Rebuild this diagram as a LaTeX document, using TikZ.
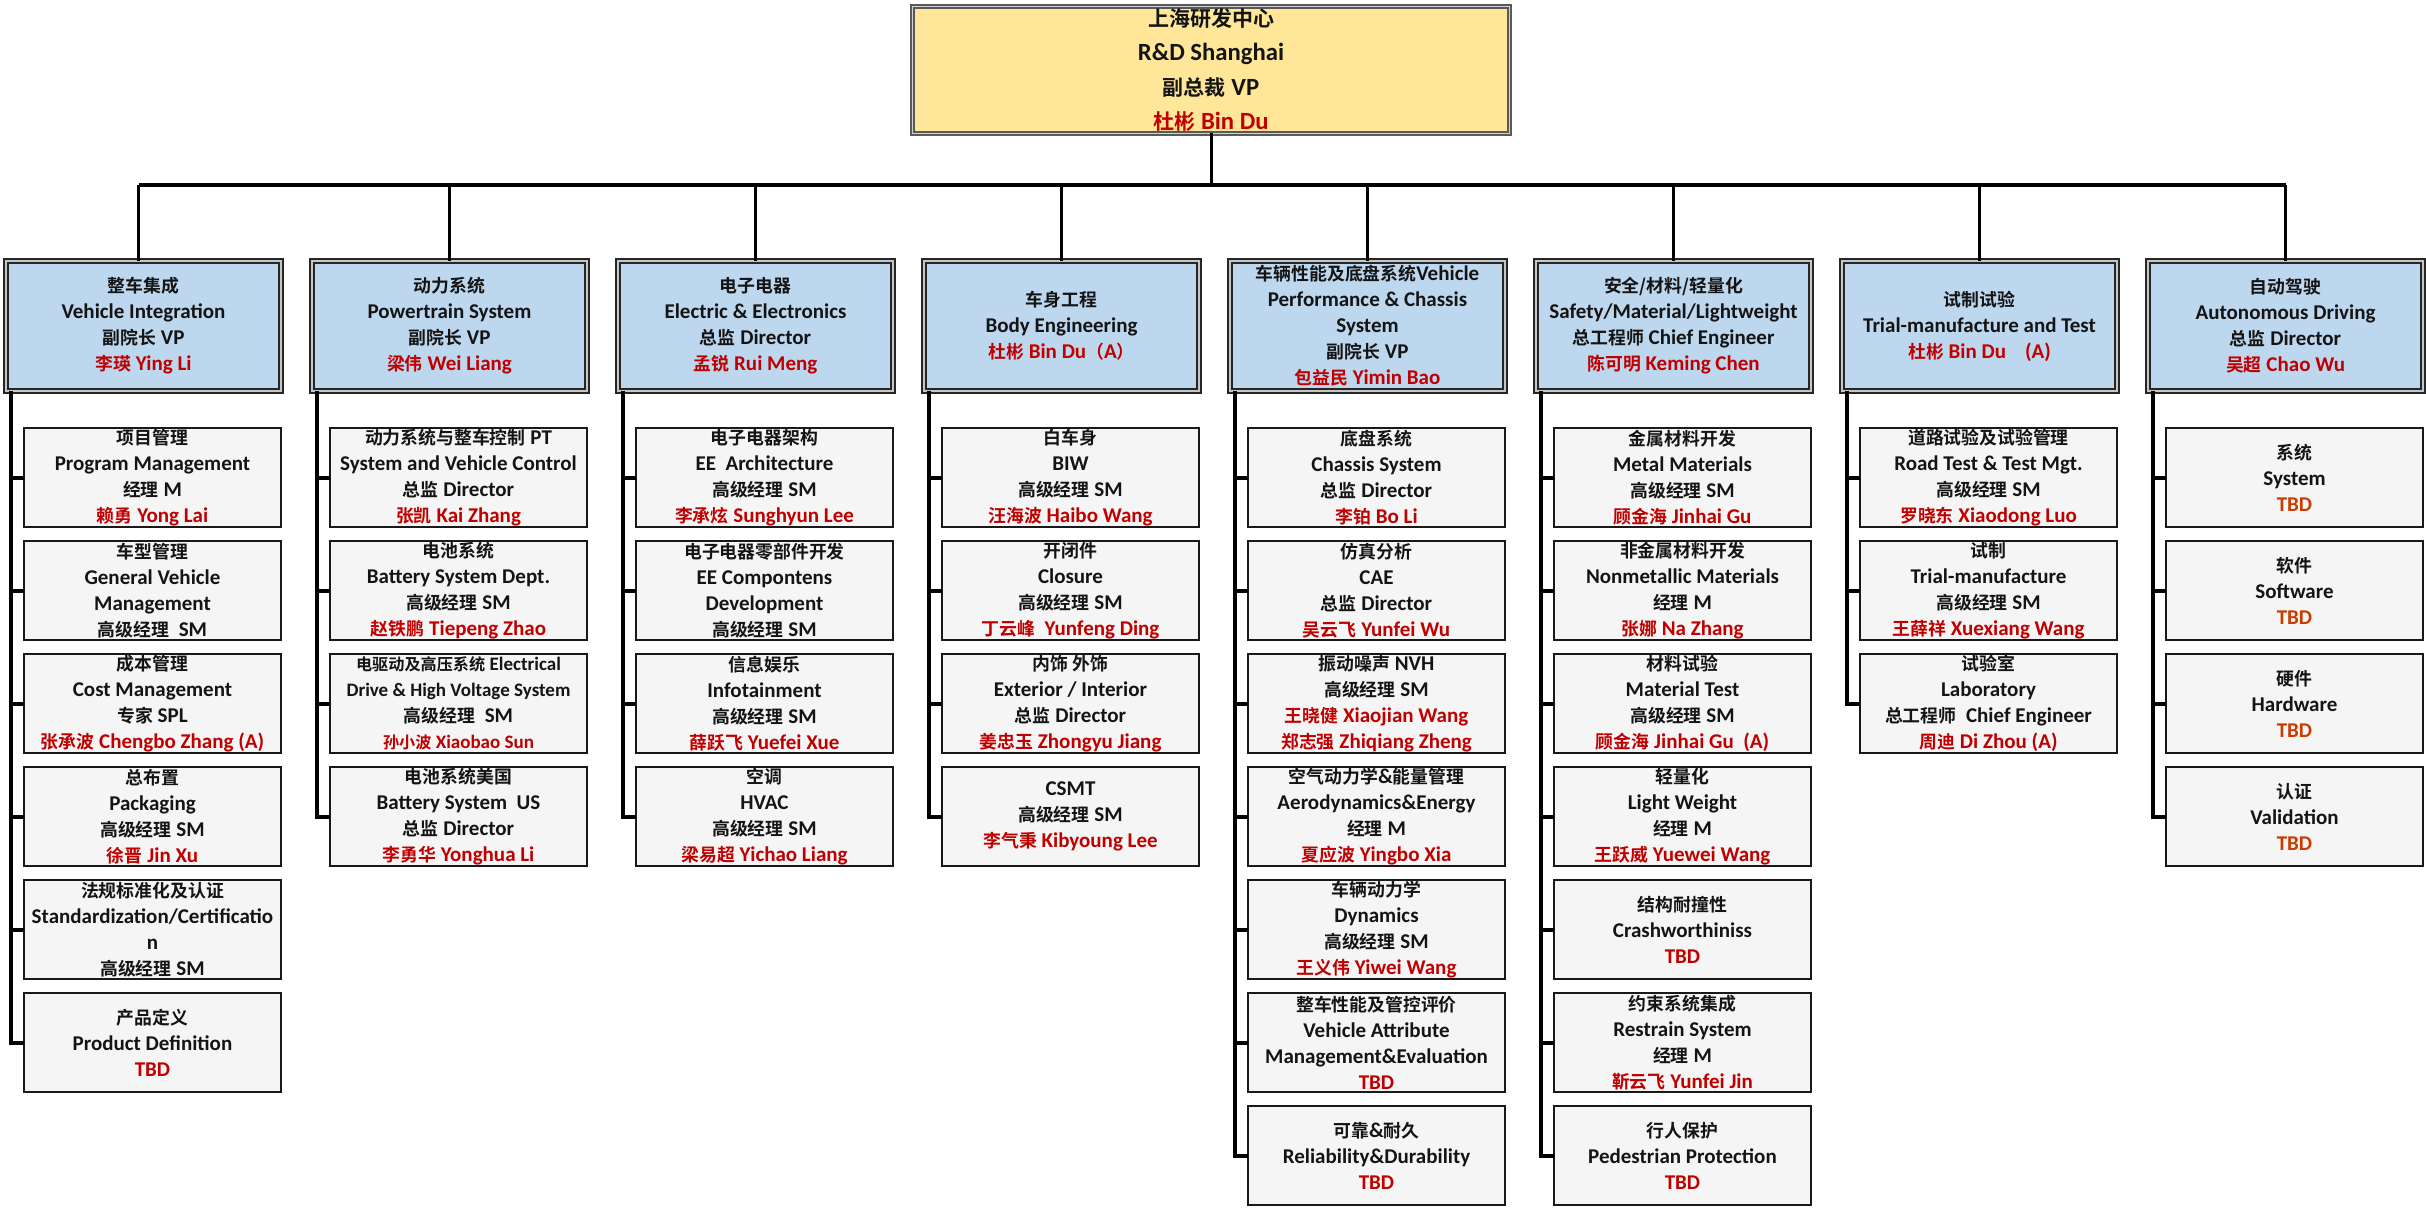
\documentclass[tikz,border=0pt]{standalone}
\usepackage{fontspec}
\setmainfont{Carlito}
\newfontfamily\cjk{Noto Sans CJK SC}[Scale=0.85, BoldFont={* Bold}]
\newcommand\zh[1]{{\cjk #1}}
\definecolor{hdrblue}{RGB}{189,215,238}
\definecolor{childgray}{RGB}{245,245,245}
\definecolor{topgold}{RGB}{255,230,153}
\definecolor{nmred}{RGB}{192,0,0}
\definecolor{tbdor}{RGB}{200,60,0}
\definecolor{txt}{RGB}{20,20,20}
\newcommand\nm[1]{\textcolor{nmred}{#1}}
\newcommand\tbdo{\textcolor{tbdor}{TBD}}
\newcommand\sm[1]{{\fontsize{9.5}{13}\selectfont #1}}
\begin{document}
\begin{tikzpicture}[x=0.5pt,y=-0.5pt,
  every node/.style={text=txt},
  base/.style={align=center, inner sep=0pt, outer sep=0pt, font=\fontsize{10.5}{13}\selectfont\bfseries},
  topbox/.style={base, draw=black!65, line width=0.9pt, double=gray!35, double distance=0.8pt, fill=topgold,
     minimum width=298.4pt, minimum height=63.4pt, font=\fontsize{12.35}{17.25}\selectfont\bfseries},
  hdr/.style={base, draw=black!85, line width=1pt, double=gray!45, double distance=0.9pt, fill=hdrblue,
     minimum width=137.6pt, minimum height=65.1pt},
  child/.style={base, draw=black!90, line width=1pt, fill=childgray, minimum width=128.5pt, minimum height=49.5pt},
  conn/.style={draw=black, line width=1.5pt},
  busline/.style={draw=black, line width=2.2pt},
  spine/.style={draw=black, line width=2pt}]
\useasboundingbox (0,0) rectangle (2426,1207);

% top
\node[topbox] (top) at (1211,70) {\zh{上海研发中心}\\R\&D Shanghai\\\zh{副总裁} VP\\\nm{\zh{杜彬} Bin Du}};
\coordinate (bus) at (1211,185);

% headers
\node[hdr] (h1) at (143.5,326) {\zh{整车集成}\\Vehicle Integration\\\zh{副院长} VP\\\nm{\zh{李瑛} Ying Li}};
\node[hdr] (h2) at (449.5,326) {\zh{动力系统}\\Powertrain System\\\zh{副院长} VP\\\nm{\zh{梁伟} Wei Liang}};
\node[hdr] (h3) at (755.5,326) {\zh{电子电器}\\Electric \& Electronics\\\zh{总监} Director\\\nm{\zh{孟锐} Rui Meng}};
\node[hdr] (h4) at (1061.5,326) {\zh{车身工程}\\Body Engineering\\\nm{\zh{杜彬} Bin Du\zh{（}A\zh{）}}};
\node[hdr] (h5) at (1367.5,326) {\zh{车辆性能及底盘系统}Vehicle\\Performance \& Chassis\\System\\\zh{副院长} VP\\\nm{\zh{包益民} Yimin Bao}};
\node[hdr] (h6) at (1673.5,326) {\zh{安全/材料/轻量化}\\Safety/Material/Lightweight\\\zh{总工程师} Chief Engineer\\\nm{\zh{陈可明} Keming Chen}};
\node[hdr] (h7) at (1979.5,326) {\zh{试制试验}\\Trial-manufacture and Test\\\nm{\zh{杜彬} Bin Du\ \ \ \ (A)}};
\node[hdr] (h8) at (2285.5,326) {\zh{自动驾驶}\\Autonomous Driving\\\zh{总监} Director\\\nm{\zh{吴超} Chao Wu}};

% column 1
\node[child] (c1-1) at (152.5,477.5) {\zh{项目管理}\\Program Management\\\zh{经理} M\\\nm{\zh{赖勇} Yong Lai}};
\node[child] (c1-2) at (152.5,590.5) {\zh{车型管理}\\General Vehicle\\Management\\\zh{高级经理}\ \ SM};
\node[child] (c1-3) at (152.5,703.5) {\zh{成本管理}\\Cost Management\\\zh{专家} SPL\\\nm{\zh{张承波} Chengbo Zhang (A)}};
\node[child] (c1-4) at (152.5,816.5) {\zh{总布置}\\Packaging\\\zh{高级经理} SM\\\nm{\zh{徐晋} Jin Xu}};
\node[child] (c1-5) at (152.5,929.5) {\zh{法规标准化及认证}\\Standardization/Certificatio\\n\\\zh{高级经理} SM};
\node[child] (c1-6) at (152.5,1042.5) {\zh{产品定义}\\Product Definition\\\nm{TBD}};

% column 2
\node[child] (c2-1) at (458.5,477.5) {\zh{动力系统与整车控制} PT\\System and Vehicle Control\\\zh{总监} Director\\\nm{\zh{张凯} Kai Zhang}};
\node[child] (c2-2) at (458.5,590.5) {\zh{电池系统}\\Battery System Dept.\\\zh{高级经理} SM\\\nm{\zh{赵铁鹏} Tiepeng Zhao}};
\node[child] (c2-3) at (458.5,703.5) {\sm{\zh{电驱动及高压系统} Electrical}\\\sm{Drive \& High Voltage System}\\\zh{高级经理}\ \ SM\\\sm{\nm{\zh{孙小波} Xiaobao Sun}}};
\node[child] (c2-4) at (458.5,816.5) {\zh{电池系统美国}\\Battery System\ \ US\\\zh{总监} Director\\\nm{\zh{李勇华} Yonghua Li}};

% column 3
\node[child] (c3-1) at (764.5,477.5) {\zh{电子电器架构}\\EE\ \ Architecture\\\zh{高级经理} SM\\\nm{\zh{李承炫} Sunghyun Lee}};
\node[child] (c3-2) at (764.5,590.5) {\zh{电子电器零部件开发}\\EE Compontens\\Development\\\zh{高级经理} SM};
\node[child] (c3-3) at (764.5,703.5) {\zh{信息娱乐}\\Infotainment\\\zh{高级经理} SM\\\nm{\zh{薛跃飞} Yuefei Xue}};
\node[child] (c3-4) at (764.5,816.5) {\zh{空调}\\HVAC\\\zh{高级经理} SM\\\nm{\zh{梁易超} Yichao Liang}};

% column 4
\node[child] (c4-1) at (1070.5,477.5) {\zh{白车身}\\BIW\\\zh{高级经理} SM\\\nm{\zh{汪海波} Haibo Wang}};
\node[child] (c4-2) at (1070.5,590.5) {\zh{开闭件}\\Closure\\\zh{高级经理} SM\\\nm{\zh{丁云峰}\ \ Yunfeng Ding}};
\node[child] (c4-3) at (1070.5,703.5) {\zh{内饰 外饰}\\Exterior / Interior\\\zh{总监} Director\\\nm{\zh{姜忠玉} Zhongyu Jiang}};
\node[child] (c4-4) at (1070.5,816.5) {CSMT\\\zh{高级经理} SM\\\nm{\zh{李气秉} Kibyoung Lee}};

% column 5
\node[child] (c5-1) at (1376.5,477.5) {\zh{底盘系统}\\Chassis System\\\zh{总监} Director\\\nm{\zh{李铂} Bo Li}};
\node[child] (c5-2) at (1376.5,590.5) {\zh{仿真分析}\\CAE\\\zh{总监} Director\\\nm{\zh{吴云飞} Yunfei Wu}};
\node[child] (c5-3) at (1376.5,703.5) {\zh{振动噪声} NVH\\\zh{高级经理} SM\\\nm{\zh{王晓健} Xiaojian Wang}\\\nm{\zh{郑志强} Zhiqiang Zheng}};
\node[child] (c5-4) at (1376.5,816.5) {\zh{空气动力学}\&\zh{能量管理}\\Aerodynamics\&Energy\\\zh{经理} M\\\nm{\zh{夏应波} Yingbo Xia}};
\node[child] (c5-5) at (1376.5,929.5) {\zh{车辆动力学}\\Dynamics\\\zh{高级经理} SM\\\nm{\zh{王义伟} Yiwei Wang}};
\node[child] (c5-6) at (1376.5,1042.5) {\zh{整车性能及管控评价}\\Vehicle Attribute\\Management\&Evaluation\\\nm{TBD}};
\node[child] (c5-7) at (1376.5,1155.5) {\zh{可靠}\&\zh{耐久}\\Reliability\&Durability\\\nm{TBD}};

% column 6
\node[child] (c6-1) at (1682.5,477.5) {\zh{金属材料开发}\\Metal Materials\\\zh{高级经理} SM\\\nm{\zh{顾金海} Jinhai Gu}};
\node[child] (c6-2) at (1682.5,590.5) {\zh{非金属材料开发}\\Nonmetallic Materials\\\zh{经理} M\\\nm{\zh{张娜} Na Zhang}};
\node[child] (c6-3) at (1682.5,703.5) {\zh{材料试验}\\Material Test\\\zh{高级经理} SM\\\nm{\zh{顾金海} Jinhai Gu\ \ (A)}};
\node[child] (c6-4) at (1682.5,816.5) {\zh{轻量化}\\Light Weight\\\zh{经理} M\\\nm{\zh{王跃威} Yuewei Wang}};
\node[child] (c6-5) at (1682.5,929.5) {\zh{结构耐撞性}\\Crashworthiniss\\\nm{TBD}};
\node[child] (c6-6) at (1682.5,1042.5) {\zh{约束系统集成}\\Restrain System\\\zh{经理} M\\\nm{\zh{靳云飞} Yunfei Jin}};
\node[child] (c6-7) at (1682.5,1155.5) {\zh{行人保护}\\Pedestrian Protection\\\nm{TBD}};

% column 7
\node[child] (c7-1) at (1988.5,477.5) {\zh{道路试验及试验管理}\\Road Test \& Test Mgt.\\\zh{高级经理} SM\\\nm{\zh{罗晓东} Xiaodong Luo}};
\node[child] (c7-2) at (1988.5,590.5) {\zh{试制}\\Trial-manufacture\\\zh{高级经理} SM\\\nm{\zh{王薛祥} Xuexiang Wang}};
\node[child] (c7-3) at (1988.5,703.5) {\zh{试验室}\\Laboratory\\\zh{总工程师}\ \ Chief Engineer\\\nm{\zh{周迪} Di Zhou (A)}};

% column 8
\node[child] (c8-1) at (2294.5,477.5) {\zh{系统}\\System\\\tbdo};
\node[child] (c8-2) at (2294.5,590.5) {\zh{软件}\\Software\\\tbdo};
\node[child] (c8-3) at (2294.5,703.5) {\zh{硬件}\\Hardware\\\tbdo};
\node[child] (c8-4) at (2294.5,816.5) {\zh{认证}\\Validation\\\tbdo};

% connectors: top to bus
\coordinate (d1) at ([xshift=-2.5pt]h1.north);
\draw[conn] (top.south) -- (bus);
\draw[busline] (d1 |- bus) -- (h8.north |- bus);
\draw[conn] (d1) -- (d1 |- bus);
\foreach \h in {h2,h3,h4,h5,h6,h7,h8}
  \draw[conn] (\h.north) -- (\h.north |- bus);

% spines
\foreach \c/\n in {1/6,2/4,3/4,4/4,5/7,6/7,7/3,8/4}{
  \foreach \k in {1,...,\n}
    \draw[spine] ([xshift=2.5pt]h\c.south west) |- (c\c-\k.west);
}
\end{tikzpicture}
\end{document}
